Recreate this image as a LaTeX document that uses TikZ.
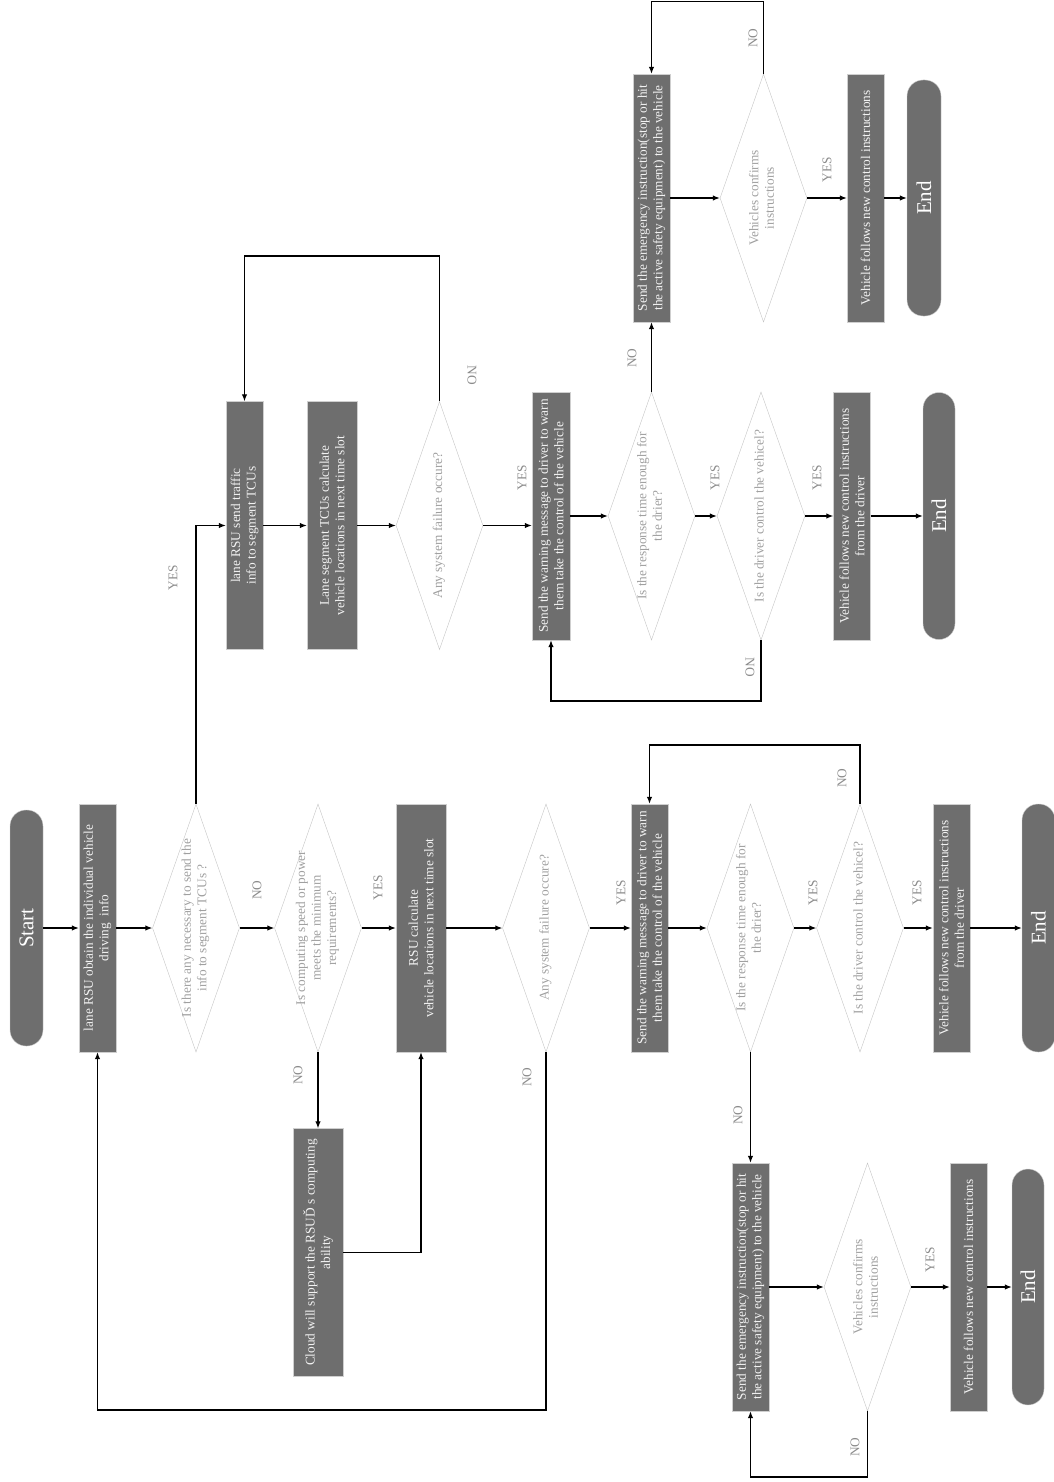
\documentclass[tikz,border=0pt]{standalone}
\usepackage{fontspec}
\setmainfont{Liberation Serif}
\usetikzlibrary{shapes.geometric,arrows.meta,positioning}

\definecolor{boxfill}{HTML}{6E6E6E}
\definecolor{boxline}{HTML}{CFCFCF}
\definecolor{decline}{HTML}{C4C4C4}
\definecolor{dectext}{HTML}{A0A0A0}
\definecolor{tagtext}{HTML}{8C8C8C}

\newcommand{\txtfont}{\fontsize{13.3}{15.5}\selectfont}
\newcommand{\dtext}[1]{\smash{\makebox[0pt]{\raisebox{-3pt}{\begin{tabular}{@{}c@{}}#1\end{tabular}}}}}

\begin{document}
\begin{tikzpicture}[x=1pt,y=-1pt,>={Latex[length=7pt,width=5.5pt]}]
    \tikzset{
        proc/.style={rectangle, draw=boxline, fill=boxfill, text=white!95!black, rotate=90, inner sep=0pt,
            minimum width=248pt, minimum height=37pt, align=center, font=\txtfont},
        term/.style={rectangle, rounded corners=16pt, draw=boxline, fill=boxfill, text=white, rotate=90,
            minimum width=236pt, minimum height=33pt, font=\fontsize{21}{24}\selectfont},
        dec/.style={diamond, draw=decline, text=dectext, rotate=90, inner sep=0pt,
            minimum width=248pt, minimum height=87pt, font=\txtfont},
        tag/.style={text=tagtext, inner sep=0pt, font=\txtfont},
        tagup/.style={tag, rotate=90},
        tagdown/.style={tag, rotate=-90},
        flow/.style={->, line width=1.2pt},
    }
    \useasboundingbox (0,0) rectangle (1053,1482);

    % main row
    \node[term] (start) at (26.5,928) {Start};
    \node[proc] (b1) at (97.5,928) {lane RSU obtain the individual vehicle\\driving\ \ info};
    \node[dec] (d1) at (196,928) {\dtext{Is there any necessary to send the\\info to segment TCUs ?}};
    \node[dec] (d2) at (318,928) {\dtext{Is computing speed or power\\meets the minimum\\requirements?}};
    \node[proc, minimum height=50pt] (b3) at (421,928) {RSU calculate\\vehicle locations in next time slot};
    \node[proc, minimum height=50pt] (cloud) at (318,1252.5) {Cloud will support the RSUĎ s computing\\ability};
    \node[dec] (d3) at (546,928) {\dtext{Any system failure occure?}};
    \node[proc] (b4) at (649.5,928) {Send the warning message to driver to warn\\them take the control of the vehicle};
    \node[dec] (d4) at (750.5,928) {\dtext{Is the response time enough for\\the drier?}};
    \node[dec] (d5) at (860,928) {\dtext{Is the driver control the vehicel?}};
    \node[proc] (b5) at (951.5,928) {Vehicle follows new control instructions\\from the driver};
    \node[term, minimum width=248pt] (end1) at (1038.5,928) {End};

    % emergency row
    \node[proc] (e1) at (750.5,1287) {Send the emergency instruction(stop or hit\\the active safety equipment) to the vehicle};
    \node[dec] (d6) at (867.5,1287) {\dtext{Vehicles confirms\\instructions}};
    \node[proc] (f2) at (968.5,1287) {Vehicle follows new control instructions};
    \node[term, minimum height=32pt] (end2) at (1028,1287) {End};

    % segment TCU row
    \node[proc] (u1) at (244.5,525.5) {lane RSU send traffic\\info to segment TCUs};
    \node[proc, minimum height=50pt] (u2) at (332,525.5) {Lane segment TCUs calculate\\vehicle locations in next time slot};
    \node[dec] (d7) at (439.5,525.5) {\dtext{Any system failure occure?}};
    \node[proc, minimum height=38pt] (w2) at (551,516) {Send the warning message to driver to warn\\them take the control of the vehicle};
    \node[dec] (d8) at (651.5,516) {\dtext{Is the response time enough for\\the drier?}};
    \node[dec, minimum height=88pt] (d9) at (761,516) {\dtext{Is the driver control the vehicel?}};
    \node[proc] (f3) at (852,516) {Vehicle follows new control instructions\\from the driver};
    \node[term, minimum width=247pt, minimum height=32pt] (end3) at (939,516) {End};

    % top row
    \node[proc] (e2) at (651.5,198) {Send the emergency instruction(stop or hit\\the active safety equipment) to the vehicle};
    \node[dec] (d10) at (763.5,198) {\dtext{Vehicles confirms\\instructions}};
    \node[proc] (f4) at (865.5,198) {Vehicle follows new control instructions};
    \node[term, minimum height=34pt] (end4) at (924,198) {End};

    % corners of the loops
    \coordinate (c1) at (546,1410);
    \coordinate (c2) at (860,745);
    \coordinate (c3) at (867.5,1477);
    \coordinate (c4) at (439.5,256);
    \coordinate (c5) at (761,701);
    \coordinate (c6) at (763.5,1.5);

    % connectors
    \draw[flow] (start) -- (b1);
    \draw[flow] (b1) -- (d1);
    \draw[flow] (d1) -- (d2);
    \draw[flow] (d2) -- (b3);
    \draw[flow] (d1.east) |- (u1);
    \draw[flow] (d2.west) -- (cloud.east);
    \draw[flow] (cloud.south) -| (b3.west);
    \draw[flow] (b3) -- (d3);
    \draw[flow] (d3.west) -- (c1) -| (b1.west);
    \draw[flow] (d3) -- (b4);
    \draw[flow] (b4) -- (d4);
    \draw[flow] (d4) -- (d5);
    \draw[flow] (d5) -- (b5);
    \draw[flow] (b5) -- (end1);
    \draw[flow] (d5.east) -- (c2) -| (b4.east);
    \draw[flow] (d4.west) -- (e1.east);
    \draw[flow] (e1) -- (d6);
    \draw[flow] (d6) -- (f2);
    \draw[flow] (f2) -- (end2);
    \draw[flow] (d6.west) -- (c3) -| (e1.west);
    \draw[flow] (u1) -- (u2);
    \draw[flow] (u2) -- (d7);
    \draw[flow] (d7.east) -- (c4) -| (u1.east);
    \draw[flow] (d7.south) -- (d7.south -| w2.north);
    \draw[flow] (w2) -- (d8);
    \draw[flow] (d8) -- (d9);
    \draw[flow] (d9) -- (f3);
    \draw[flow] (f3) -- (end3);
    \draw[flow] (d9.west) -- (c5) -| (w2.west);
    \draw[flow] (d8.east) -- (e2.west);
    \draw[flow] (e2) -- (d10);
    \draw[flow] (d10) -- (f4);
    \draw[flow] (f4) -- (end4);
    \draw[flow] (d10.east) -- (c6) -| (e2.east);

    % YES / NO labels
    \node[tagup] (yes1) at (173,578) {YES};
    \node[tagup] (no1) at (257,890) {NO};
    \node[tagup] (yes2) at (378,888) {YES};
    \node[tagup] (no2) at (298,1075) {NO};
    \node[tagup] (no3) at (527,1077) {NO};
    \node[tagup] (yes3) at (621,893) {YES};
    \node[tagup] (yes4) at (813,893) {YES};
    \node[tagup] (yes5) at (917,893) {YES};
    \node[tagup] (no4) at (842,778) {NO};
    \node[tagup] (no5) at (738,1115) {NO};
    \node[tagup] (yes6) at (930,1260) {YES};
    \node[tagup] (no6) at (855,1447) {NO};
    \node[tagdown] (no7) at (472,375) {NO};
    \node[tagup] (yes7) at (522,478) {YES};
    \node[tagup] (yes8) at (715,478) {YES};
    \node[tagup] (yes9) at (817,478) {YES};
    \node[tagdown] (no8) at (750,667) {NO};
    \node[tagup] (no9) at (632,358) {NO};
    \node[tagup] (yes10) at (827,170) {YES};
    \node[tagup] (no10) at (753,38) {NO};
\end{tikzpicture}
\end{document}
